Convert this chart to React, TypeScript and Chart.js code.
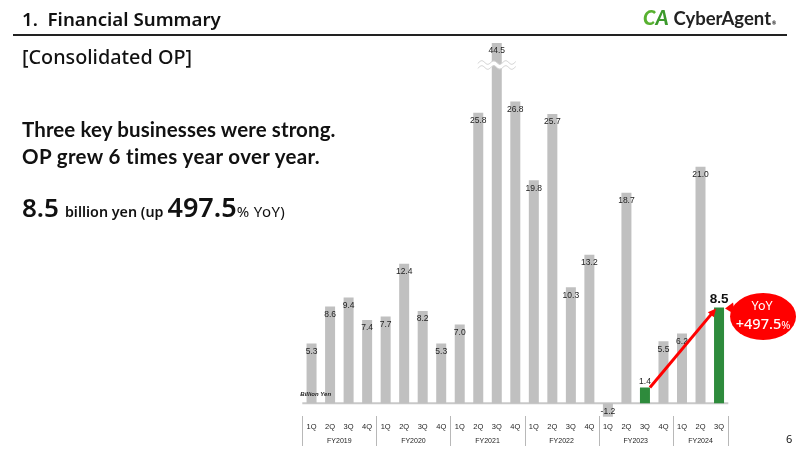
import React, { useEffect, useRef } from "react";
import { Chart, registerables } from "chart.js";

Chart.register(...registerables);

const quarterLabels = [
  "1Q", "2Q", "3Q", "4Q",
  "1Q", "2Q", "3Q", "4Q",
  "1Q", "2Q", "3Q", "4Q",
  "1Q", "2Q", "3Q", "4Q",
  "1Q", "2Q", "3Q", "4Q",
  "1Q", "2Q", "3Q",
];
const fiscalYears = ["FY2019", "FY2020", "FY2021", "FY2022", "FY2023", "FY2024"];
const quartersPerYear = [4, 4, 4, 4, 4, 3];
const opValues = [
  5.3, 8.6, 9.4, 7.4,
  7.7, 12.4, 8.2, 5.3,
  7.0, 25.8, 44.5, 26.8,
  19.8, 25.7, 10.3, 13.2,
  -1.2, 18.7, 1.4, 5.5,
  6.2, 21.0, 8.5,
];
const highlightIdx = [18, 22];
const axisCap = 32;
const axisFloor = -1.3;
const unitLabel = "Billion Yen";
const yoyLabel = "+497.5";

const GRAY = "#c0c0c0";
const GREEN = "#2e8b3c";
const LABEL_FONT = "'Liberation Sans', Arial, sans-serif";

const overlayPlugin = {
  id: "overlay",
  beforeDatasetsDraw(chart: any) {
    const { ctx, chartArea } = chart;
    const y = chart.scales.y;
    const y0 = y.getPixelForValue(0);
    ctx.save();
    ctx.strokeStyle = "#c8c8c8";
    ctx.lineWidth = 2;
    ctx.beginPath();
    ctx.moveTo(chartArea.left, y0);
    ctx.lineTo(chartArea.right, y0);
    ctx.stroke();
    ctx.restore();
  },
  afterDatasetsDraw(chart: any) {
    const { ctx, chartArea } = chart;
    const x = chart.scales.x;
    const y = chart.scales.y;
    const meta = chart.getDatasetMeta(0);
    const half = (x.getPixelForValue(1) - x.getPixelForValue(0)) / 2;
    ctx.save();

    // broken bars (wavy break)
    opValues.forEach((v, i) => {
      if (v <= axisCap) return;
      const bx = meta.data[i].x;
      const wy = chartArea.top + 22;
      const wave = (off: number) => {
        ctx.beginPath();
        for (let dx = -19; dx <= 19; dx += 1) {
          const yy = wy + off + Math.sin((dx / 12) * Math.PI * 2) * 1.8;
          if (dx === -19) ctx.moveTo(bx + dx, yy);
          else ctx.lineTo(bx + dx, yy);
        }
        ctx.stroke();
      };
      ctx.strokeStyle = "#ffffff";
      ctx.lineWidth = 4;
      wave(0);
      ctx.strokeStyle = "#d0d0d0";
      ctx.lineWidth = 1;
      wave(-2.5);
      wave(2.5);
    });

    // value labels
    ctx.textAlign = "center";
    ctx.textBaseline = "middle";
    opValues.forEach((v, i) => {
      const el = meta.data[i];
      const txt = v.toFixed(1);
      if (highlightIdx.includes(i)) {
        if (i === highlightIdx[highlightIdx.length - 1]) {
          ctx.font = `bold 13.5px ${LABEL_FONT}`;
          ctx.fillStyle = "#111";
          ctx.fillText(txt, el.x, el.y - 8);
        } else {
          ctx.font = `8.5px ${LABEL_FONT}`;
          ctx.fillStyle = "#222";
          ctx.fillText(txt, el.x, el.y - 6);
        }
      } else {
        ctx.font = `8.5px ${LABEL_FONT}`;
        ctx.fillStyle = "#222";
        const ly = v >= 0 ? Math.max(el.y, chartArea.top) + 8 : el.y - 5;
        ctx.fillText(txt, el.x, ly);
      }
    });

    // unit label
    ctx.font = `italic bold 6px ${LABEL_FONT}`;
    ctx.textAlign = "left";
    ctx.fillStyle = "#222";
    ctx.fillText(unitLabel, chartArea.left - 2, y.getPixelForValue(0) - 9);

    // quarter labels
    ctx.textAlign = "center";
    ctx.font = `7.5px ${LABEL_FONT}`;
    quarterLabels.forEach((q, i) => {
      ctx.fillText(q, x.getPixelForValue(i), 427);
    });

    // FY labels and separators
    ctx.font = `7px ${LABEL_FONT}`;
    ctx.strokeStyle = "#b8b8b8";
    ctx.lineWidth = 1;
    let start = 0;
    const sep = (px: number) => {
      ctx.beginPath();
      ctx.moveTo(Math.round(px) + 0.5, 416);
      ctx.lineTo(Math.round(px) + 0.5, 446);
      ctx.stroke();
    };
    fiscalYears.forEach((fy, g) => {
      const end = start + quartersPerYear[g] - 1;
      const left = x.getPixelForValue(start) - half;
      const right = x.getPixelForValue(end) + half;
      sep(left);
      if (g === fiscalYears.length - 1) sep(right);
      ctx.fillText(fy, (left + right) / 2, 441);
      start = end + 1;
    });

    // arrow between highlighted bars
    const a = meta.data[highlightIdx[0]];
    const b = meta.data[highlightIdx[1]];
    const sx = a.x + 5, sy = a.y;
    const ex = b.x - 3, ey = b.y + 1;
    const ang = Math.atan2(ey - sy, ex - sx);
    const head = 9;
    ctx.strokeStyle = "#ff0000";
    ctx.fillStyle = "#ff0000";
    ctx.lineWidth = 3;
    ctx.beginPath();
    ctx.moveTo(sx, sy);
    ctx.lineTo(ex - Math.cos(ang) * head * 0.7, ey - Math.sin(ang) * head * 0.7);
    ctx.stroke();
    ctx.beginPath();
    ctx.moveTo(ex, ey);
    ctx.lineTo(ex - head * Math.cos(ang - 0.45), ey - head * Math.sin(ang - 0.45));
    ctx.lineTo(ex - head * Math.cos(ang + 0.45), ey - head * Math.sin(ang + 0.45));
    ctx.closePath();
    ctx.fill();

    // YoY bubble
    const cx = b.x + 44, cy = b.y + 9;
    ctx.fillStyle = "#ff0000";
    ctx.beginPath();
    ctx.ellipse(cx, cy, 33, 23.5, 0, 0, Math.PI * 2);
    ctx.fill();
    ctx.beginPath();
    ctx.moveTo(cx - 30, cy - 14);
    ctx.lineTo(b.x + 6, b.y + 1);
    ctx.lineTo(cx - 28, cy - 2);
    ctx.closePath();
    ctx.fill();
    ctx.fillStyle = "#ffffff";
    ctx.textAlign = "center";
    const BF = "'Noto Sans', Lato, sans-serif";
    ctx.font = `12.5px ${BF}`;
    ctx.fillText("YoY", cx - 1, cy - 10);
    ctx.font = `500 14.5px ${BF}`;
    const w1 = ctx.measureText(yoyLabel).width;
    ctx.font = `11px ${BF}`;
    const w2 = ctx.measureText("%").width;
    const tx = cx - (w1 + w2) / 2;
    ctx.textAlign = "left";
    ctx.font = `500 14.5px ${BF}`;
    ctx.fillText(yoyLabel, tx, cy + 8);
    ctx.font = `11px ${BF}`;
    ctx.fillText("%", tx + w1, cy + 9);

    ctx.restore();
  },
};

function ChartCanvas() {
  const ref = useRef<HTMLCanvasElement>(null);
  useEffect(() => {
    if (!ref.current) return;
    const chart = new Chart(ref.current, {
      type: "bar",
      data: {
        labels: quarterLabels,
        datasets: [
          {
            data: opValues,
            backgroundColor: opValues.map((_, i) => (highlightIdx.includes(i) ? GREEN : GRAY)),
            borderWidth: 0,
            categoryPercentage: 0.54,
            barPercentage: 1,
          },
        ],
      },
      options: {
        responsive: false,
        animation: false,
        devicePixelRatio: 1,
        layout: { padding: { left: 302.3, right: 71.7, top: 43, bottom: 32.1 } },
        plugins: { legend: { display: false }, tooltip: { enabled: false } },
        scales: {
          x: { display: false },
          y: { display: false, min: axisFloor, max: axisCap },
        },
      },
      plugins: [overlayPlugin],
    });
    return () => chart.destroy();
  }, []);
  return (
    <canvas
      ref={ref}
      width={800}
      height={450}
      style={{ position: "absolute", left: 0, top: 0, width: 800, height: 450 }}
    />
  );
}

const TXT = "'Noto Sans', Lato, sans-serif";

export default function App() {
  return (
    <div
      style={{
        position: "absolute",
        left: 0,
        top: 0,
        width: 800,
        height: 450,
        background: "#fff",
        overflow: "hidden",
        fontFamily: TXT,
        color: "#111",
      }}
    >
      <ChartCanvas />
      <div style={{ position: "absolute", left: 22, top: 6, fontSize: 18.7, fontWeight: 600, lineHeight: "26px", whiteSpace: "nowrap" }}>
        1.&nbsp; Financial Summary
      </div>
      <div style={{ position: "absolute", left: 13, top: 34, width: 774, height: 2, background: "#222" }} />
      <div style={{ position: "absolute", left: 643, top: 4, fontSize: 20, fontWeight: 900, whiteSpace: "nowrap", fontFamily: "Lato, sans-serif", lineHeight: "26px" }}>
        <span style={{ color: "#58b130", fontStyle: "italic" }}>C</span>
        <span style={{ color: "#3c9a2c", fontStyle: "italic" }}>A</span>
        <span style={{ color: "#222", fontWeight: 700, fontSize: 18.5, marginLeft: 5 }}>CyberAgent</span>
        <span style={{ color: "#222", fontSize: 5, marginLeft: 1 }}>®</span>
      </div>
      <div style={{ position: "absolute", left: 22, top: 42, fontSize: 19.8, fontWeight: 500, lineHeight: "30px", whiteSpace: "nowrap" }}>
        [Consolidated OP]
      </div>
      <div style={{ position: "absolute", left: 22, top: 116, fontSize: 20.5, fontWeight: 700, lineHeight: "27px", whiteSpace: "nowrap", fontFamily: "Lato, sans-serif", fontVariantLigatures: "none", letterSpacing: 0.1 }}>
        Three key businesses were strong.
        <br />
        <span style={{ letterSpacing: 0.35 }}>OP grew 6 times year over year.</span>
      </div>
      <div style={{ position: "absolute", left: 22, top: 189, whiteSpace: "nowrap", fontWeight: 600, lineHeight: "36px" }}>
        <span style={{ fontSize: 26 }}>8.5</span>
        <span style={{ fontSize: 14.3, marginLeft: 6 }}>billion yen (up</span>
        <span style={{ fontSize: 27, marginLeft: 4 }}>497.5</span>
        <span style={{ fontSize: 15, fontWeight: 400, letterSpacing: 0.4 }}>% YoY)</span>
      </div>
      <div style={{ position: "absolute", left: 786, top: 431, fontSize: 11 }}>6</div>
    </div>
  );
}
